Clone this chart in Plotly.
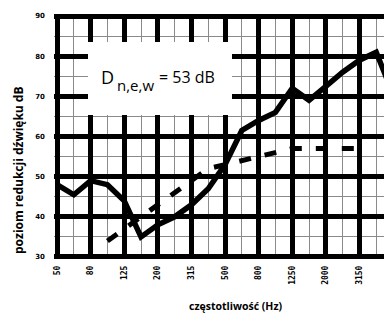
import plotly.graph_objects as go

bands = ["50", "63", "80", "100", "125", "160", "200", "250", "315", "400", "500",
         "630", "800", "1000", "1250", "1600", "2000", "2500", "3150", "4000", "5000"]
measured = [48, 45.5, 49, 48, 44, 35, 38, 40, 43, 47, 53,
            61.5, 64, 66, 72, 69, 72.5, 76, 79, 81, 70.5]
ref_bands = bands[3:19]
reference = [34, 37, 40, 43, 46, 49, 52, 53, 54, 55, 56, 57, 57, 57, 57, 57]
label_bands = bands[0::2]
y_ticks = [30, 40, 50, 60, 70, 80, 90]

idx = {b: i for i, b in enumerate(bands)}
x_meas = [idx[b] for b in bands]
x_ref = [idx[b] for b in ref_bands]
x_lab = [idx[b] for b in label_bands]

# page body adds an 8px offset; size the figure to fill the window exactly
OFF = 8
W, H = 392 - OFF, 314 - OFF
ML, MR, MT, MB = 54 - OFF, 0, 14 - OFF, 55
PW, PH = W - ML - MR, H - MT - MB


def px(x):  # window pixel -> paper
    return (x - OFF - ML) / PW


def py(y):
    return (H - MB - (y - OFF)) / PH


fig = go.Figure()
fig.add_trace(go.Scatter(x=x_ref, y=reference, mode="lines",
                         line=dict(color="black", width=5, dash="12px,14px"),
                         hoverinfo="skip", showlegend=False))
fig.add_trace(go.Scatter(x=x_meas, y=measured, mode="lines",
                         line=dict(color="black", width=5.5),
                         hoverinfo="skip", showlegend=False))

# white label box
fig.add_shape(type="rect", xref="paper", yref="paper",
              x0=px(88), x1=px(232), y0=py(115), y1=py(42),
              fillcolor="white", line=dict(width=0), layer="above")

fnt = "Open Sans"
fig.add_annotation(xref="paper", yref="paper", x=px(99), y=py(77), text="D",
                   showarrow=False, xanchor="left", yanchor="middle",
                   font=dict(family=fnt, size=18, color="black"))
fig.add_annotation(xref="paper", yref="paper", x=px(115), y=py(85), text="n,e,w",
                   showarrow=False, xanchor="left", yanchor="middle",
                   font=dict(family=fnt, size=15, color="black"))
fig.add_annotation(xref="paper", yref="paper", x=px(157), y=py(77), text="= 53 dB",
                   showarrow=False, xanchor="left", yanchor="middle",
                   font=dict(family=fnt, size=16, color="black"))

# cut-off 5000 label at the right edge
fig.add_annotation(xref="paper", yref="paper", x=px(389), y=py(264), text="5000",
                   showarrow=False, xanchor="left", yanchor="top", textangle=-90,
                   font=dict(family="DejaVu Sans Mono", size=8, color="black", weight="bold"))

# axis titles
fig.add_annotation(xref="paper", yref="paper", x=px(18), y=py(170),
                   text="poziom redukcji dźwięku dB", textangle=-90, showarrow=False,
                   xanchor="center", yanchor="middle",
                   font=dict(family=fnt, size=12, color="black", weight="bold"))
fig.add_annotation(xref="paper", yref="paper", x=px(236), y=py(306),
                   text="częstotliwość (Hz)", showarrow=False,
                   xanchor="center", yanchor="middle",
                   font=dict(family=fnt, size=10.5, color="black", weight="bold"))

fig.update_xaxes(range=[-0.18, -0.18 + PW / 16.8],
                 tickmode="array", tickvals=x_lab[:-1], ticktext=label_bands[:-1],
                 tickangle=-90, ticks="", ticklabelstandoff=4,
                 tickfont=dict(family="DejaVu Sans Mono", size=8, color="black", weight="bold"),
                 showgrid=True, gridcolor="black", gridwidth=4.5,
                 minor=dict(dtick=1, tick0=0, showgrid=True, gridcolor="#8a8a8a", gridwidth=1),
                 zeroline=False, showline=False)
fig.update_yaxes(range=[29.5, 90.5], tickmode="array", tickvals=y_ticks,
                 ticks="", ticklabelstandoff=8,
                 tickfont=dict(family="DejaVu Sans", size=7, color="black", weight="bold"),
                 showgrid=True, gridcolor="black", gridwidth=4.5,
                 minor=dict(dtick=5, tick0=30, showgrid=True, gridcolor="#8a8a8a", gridwidth=1),
                 zeroline=False, showline=False)

fig.update_layout(width=W, height=H, margin=dict(l=ML, r=MR, t=MT, b=MB),
                  plot_bgcolor="white", paper_bgcolor="white", showlegend=False)

fig.write_html("out.html")
